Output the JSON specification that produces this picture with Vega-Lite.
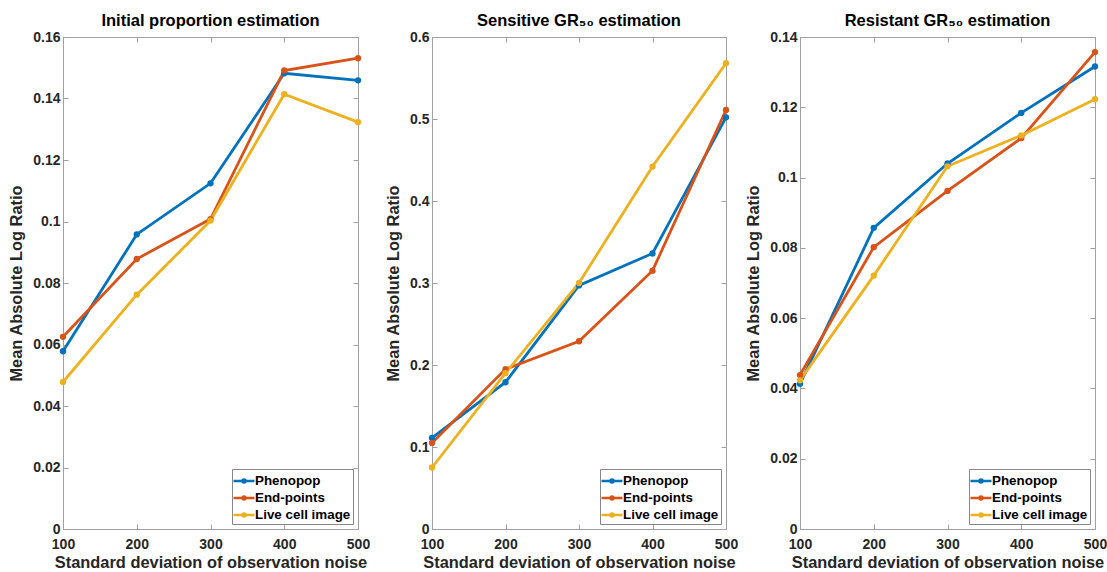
{
  "$schema": "https://vega.github.io/schema/vega-lite/v6.json",
  "padding": {"left": 8, "top": 12, "right": 5, "bottom": 2},
  "background": "white",
  "config": {
    "font": "Liberation Sans",
    "view": {"stroke": "#a0a0a0", "strokeWidth": 1},
    "axis": {
      "grid": false,
      "labelFlush": false,
      "domainColor": "#a0a0a0",
      "tickColor": "#a0a0a0",
      "tickSize": -5,
      "labelFont": "Liberation Sans",
      "labelFontWeight": "bold",
      "labelFontSize": 14,
      "labelColor": "#262626",
      "titleFont": "Liberation Sans",
      "titleFontWeight": "bold",
      "titleFontSize": 16.4,
      "titleColor": "#262626"
    },
    "title": {"font": "Liberation Sans", "fontSize": 16.5, "fontWeight": "bold", "color": "#000", "offset": 1},
    "legend": {
      "title": null,
      "orient": "bottom-right",
      "offset": 5,
      "symbolType": "M-1.2,0H1.2M-0.17,0A0.17,0.17 0 1,0 0.17,0A0.17,0.17 0 1,0 -0.17,0",
      "symbolSize": 306,
      "symbolStrokeWidth": 2.5,
      "labelFont": "Liberation Sans",
      "labelFontWeight": "bold",
      "labelFontSize": 13.4,
      "labelColor": "#000",
      "strokeColor": "#888",
      "fillColor": "white",
      "padding": 2,
      "rowPadding": 0,
      "labelOffset": 1
    }
  },
  "datasets": {
    "p1": [
      {"series": "Phenopop", "noise": 100, "value": 0.0578},
      {"series": "Phenopop", "noise": 200, "value": 0.0958},
      {"series": "Phenopop", "noise": 300, "value": 0.1124},
      {"series": "Phenopop", "noise": 400, "value": 0.1482},
      {"series": "Phenopop", "noise": 500, "value": 0.1459},
      {"series": "End-points", "noise": 100, "value": 0.0625},
      {"series": "End-points", "noise": 200, "value": 0.0878},
      {"series": "End-points", "noise": 300, "value": 0.1008},
      {"series": "End-points", "noise": 400, "value": 0.1491},
      {"series": "End-points", "noise": 500, "value": 0.1531},
      {"series": "Live cell image", "noise": 100, "value": 0.0478},
      {"series": "Live cell image", "noise": 200, "value": 0.0762},
      {"series": "Live cell image", "noise": 300, "value": 0.1003},
      {"series": "Live cell image", "noise": 400, "value": 0.1414},
      {"series": "Live cell image", "noise": 500, "value": 0.1323}
    ],
    "p2": [
      {"series": "Phenopop", "noise": 100, "value": 0.111},
      {"series": "Phenopop", "noise": 200, "value": 0.179},
      {"series": "Phenopop", "noise": 300, "value": 0.297},
      {"series": "Phenopop", "noise": 400, "value": 0.336},
      {"series": "Phenopop", "noise": 500, "value": 0.502},
      {"series": "End-points", "noise": 100, "value": 0.105},
      {"series": "End-points", "noise": 200, "value": 0.195},
      {"series": "End-points", "noise": 300, "value": 0.229},
      {"series": "End-points", "noise": 400, "value": 0.315},
      {"series": "End-points", "noise": 500, "value": 0.511},
      {"series": "Live cell image", "noise": 100, "value": 0.075},
      {"series": "Live cell image", "noise": 200, "value": 0.190},
      {"series": "Live cell image", "noise": 300, "value": 0.300},
      {"series": "Live cell image", "noise": 400, "value": 0.442},
      {"series": "Live cell image", "noise": 500, "value": 0.568}
    ],
    "p3": [
      {"series": "Phenopop", "noise": 100, "value": 0.0413},
      {"series": "Phenopop", "noise": 200, "value": 0.0857},
      {"series": "Phenopop", "noise": 300, "value": 0.1040},
      {"series": "Phenopop", "noise": 400, "value": 0.1184},
      {"series": "Phenopop", "noise": 500, "value": 0.1316},
      {"series": "End-points", "noise": 100, "value": 0.0438},
      {"series": "End-points", "noise": 200, "value": 0.0802},
      {"series": "End-points", "noise": 300, "value": 0.0962},
      {"series": "End-points", "noise": 400, "value": 0.1112},
      {"series": "End-points", "noise": 500, "value": 0.1357},
      {"series": "Live cell image", "noise": 100, "value": 0.0423},
      {"series": "Live cell image", "noise": 200, "value": 0.0721},
      {"series": "Live cell image", "noise": 300, "value": 0.1032},
      {"series": "Live cell image", "noise": 400, "value": 0.1120},
      {"series": "Live cell image", "noise": 500, "value": 0.1223}
    ]
  },
  "bounds": "flush",
  "spacing": 74,
  "resolve": {"scale": {"color": "independent"}, "legend": {"color": "independent"}},
  "hconcat": [
    {
      "title": "Initial proportion estimation",
      "width": 295, "height": 492,
      "data": {"name": "p1"},
      "resolve": {"axis": {"x": "independent", "y": "independent"}},
      "encoding": {
        "color": {"field": "series", "type": "nominal", "sort": null,
          "scale": {"domain": ["Phenopop", "End-points", "Live cell image"], "range": ["#0072BD", "#D95319", "#EDB120"]}}
      },
      "layer": [
        {"mark": {"type": "line", "strokeWidth": 2.8},
         "encoding": {
           "x": {"field": "noise", "type": "quantitative", "scale": {"domain": [100, 500], "nice": false},
             "axis": {"orient": "bottom", "values": [100, 200, 300, 400, 500], "title": "Standard deviation of observation noise", "labelPadding": 13, "titlePadding": 3}},
           "y": {"field": "value", "type": "quantitative", "scale": {"domain": [0, 0.16], "nice": false},
             "axis": {"orient": "left", "values": [0, 0.02, 0.04, 0.06, 0.08, 0.1, 0.12, 0.14, 0.16], "format": "~f", "title": "Mean Absolute Log Ratio", "labelPadding": 8, "titlePadding": 8}}
         }},
        {"mark": {"type": "point", "filled": true, "size": 40, "opacity": 1},
         "encoding": {
           "x": {"field": "noise", "type": "quantitative", "scale": {"domain": [100, 500], "nice": false},
             "axis": {"orient": "top", "values": [100, 200, 300, 400, 500], "labels": false, "title": null, "domain": false}},
           "y": {"field": "value", "type": "quantitative", "scale": {"domain": [0, 0.16], "nice": false},
             "axis": {"orient": "right", "values": [0, 0.02, 0.04, 0.06, 0.08, 0.1, 0.12, 0.14, 0.16], "labels": false, "title": null, "domain": false}}
         }}
      ]
    },
    {
      "title": "Sensitive GR₅₀ estimation",
      "width": 294, "height": 492,
      "data": {"name": "p2"},
      "resolve": {"axis": {"x": "independent", "y": "independent"}},
      "encoding": {
        "color": {"field": "series", "type": "nominal", "sort": null,
          "scale": {"domain": ["Phenopop", "End-points", "Live cell image"], "range": ["#0072BD", "#D95319", "#EDB120"]}}
      },
      "layer": [
        {"mark": {"type": "line", "strokeWidth": 2.8},
         "encoding": {
           "x": {"field": "noise", "type": "quantitative", "scale": {"domain": [100, 500], "nice": false},
             "axis": {"orient": "bottom", "values": [100, 200, 300, 400, 500], "title": "Standard deviation of observation noise", "labelPadding": 13, "titlePadding": 3}},
           "y": {"field": "value", "type": "quantitative", "scale": {"domain": [0, 0.6], "nice": false},
             "axis": {"orient": "left", "values": [0, 0.1, 0.2, 0.3, 0.4, 0.5, 0.6], "format": "~f", "title": "Mean Absolute Log Ratio", "labelPadding": 8, "titlePadding": 8}}
         }},
        {"mark": {"type": "point", "filled": true, "size": 40, "opacity": 1},
         "encoding": {
           "x": {"field": "noise", "type": "quantitative", "scale": {"domain": [100, 500], "nice": false},
             "axis": {"orient": "top", "values": [100, 200, 300, 400, 500], "labels": false, "title": null, "domain": false}},
           "y": {"field": "value", "type": "quantitative", "scale": {"domain": [0, 0.6], "nice": false},
             "axis": {"orient": "right", "values": [0, 0.1, 0.2, 0.3, 0.4, 0.5, 0.6], "labels": false, "title": null, "domain": false}}
         }}
      ]
    },
    {
      "title": "Resistant GR₅₀ estimation",
      "width": 295, "height": 492,
      "data": {"name": "p3"},
      "resolve": {"axis": {"x": "independent", "y": "independent"}},
      "encoding": {
        "color": {"field": "series", "type": "nominal", "sort": null,
          "scale": {"domain": ["Phenopop", "End-points", "Live cell image"], "range": ["#0072BD", "#D95319", "#EDB120"]}}
      },
      "layer": [
        {"mark": {"type": "line", "strokeWidth": 2.8},
         "encoding": {
           "x": {"field": "noise", "type": "quantitative", "scale": {"domain": [100, 500], "nice": false},
             "axis": {"orient": "bottom", "values": [100, 200, 300, 400, 500], "title": "Standard deviation of observation noise", "labelPadding": 13, "titlePadding": 3}},
           "y": {"field": "value", "type": "quantitative", "scale": {"domain": [0, 0.14], "nice": false},
             "axis": {"orient": "left", "values": [0, 0.02, 0.04, 0.06, 0.08, 0.1, 0.12, 0.14], "format": "~f", "title": "Mean Absolute Log Ratio", "labelPadding": 8, "titlePadding": 8}}
         }},
        {"mark": {"type": "point", "filled": true, "size": 40, "opacity": 1},
         "encoding": {
           "x": {"field": "noise", "type": "quantitative", "scale": {"domain": [100, 500], "nice": false},
             "axis": {"orient": "top", "values": [100, 200, 300, 400, 500], "labels": false, "title": null, "domain": false}},
           "y": {"field": "value", "type": "quantitative", "scale": {"domain": [0, 0.14], "nice": false},
             "axis": {"orient": "right", "values": [0, 0.02, 0.04, 0.06, 0.08, 0.1, 0.12, 0.14], "labels": false, "title": null, "domain": false}}
         }}
      ]
    }
  ]
}
